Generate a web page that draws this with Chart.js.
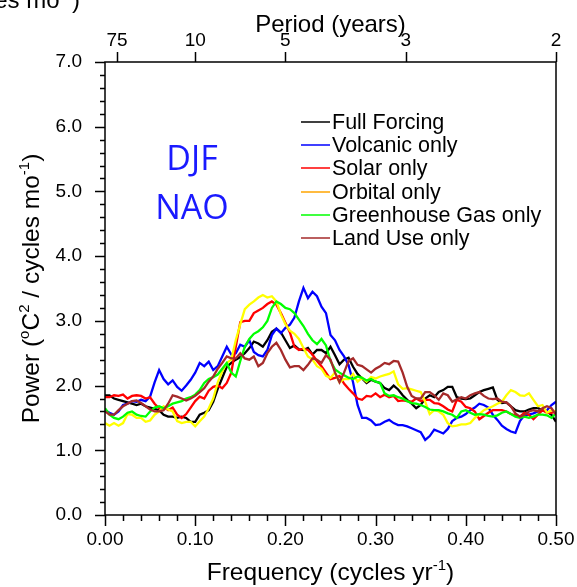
<!DOCTYPE html>
<html>
<head>
<meta charset="utf-8">
<title>DJF NAO power spectrum</title>
<script src="https://cdn.jsdelivr.net/npm/chart.js@4.4.1/dist/chart.umd.min.js"></script>
<style>
    html, body { margin: 0; padding: 0; background: #ffffff; }
    #wrap { width: 577px; height: 587px; }
</style>
</head>
<body>
<div id="wrap"><canvas id="spectrumChart" width="577" height="587"></canvas></div>
<script>
// Frequency grid (cycles / yr), one value every 0.005
const freqs = Array.from({ length: 101 }, (_, i) => +(i * 0.005).toFixed(3));

// Series values (power, 101 values each)
const fullForcing = [
    1.85, 1.85, 1.80, 1.78, 1.76, 1.74, 1.72, 1.70, 1.72, 1.68,
    1.66, 1.64, 1.62, 1.55, 1.52, 1.52, 1.50, 1.52, 1.50, 1.44,
    1.44, 1.55, 1.58, 1.62, 1.75, 1.95, 2.12, 2.29, 2.35, 2.40,
    2.44, 2.50, 2.58, 2.68, 2.65, 2.60, 2.70, 2.83, 2.88, 2.82,
    2.70, 2.58, 2.62, 2.56, 2.55, 2.58, 2.48, 2.55, 2.55, 2.50,
    2.60, 2.47, 2.33, 2.40, 2.43, 2.29, 2.18, 2.11, 2.04, 2.09,
    2.06, 2.04, 1.96, 1.93, 2.00, 1.94, 1.85, 1.78, 1.72, 1.65,
    1.70, 1.80, 1.85, 1.82, 1.90, 1.93, 1.98, 1.98, 1.82, 1.80,
    1.79, 1.80, 1.85, 1.90, 1.93, 1.95, 1.97, 1.78, 1.73, 1.74,
    1.68, 1.62, 1.60, 1.60, 1.63, 1.65, 1.65, 1.62, 1.60, 1.55,
    1.44
];
const volcanicOnly = [
    1.62, 1.58, 1.55, 1.60, 1.70, 1.72, 1.76, 1.75, 1.78, 1.76,
    1.83, 2.05, 2.24, 2.10, 2.02, 2.08, 1.98, 1.92, 2.00, 2.09,
    2.20, 2.35, 2.30, 2.37, 2.24, 2.30, 2.45, 2.60, 2.48, 2.50,
    2.63, 2.60, 2.70, 2.52, 2.47, 2.45, 2.55, 2.78, 2.88, 2.81,
    2.89, 2.94, 3.05, 3.30, 3.51, 3.35, 3.45, 3.38, 3.22, 3.12,
    2.78, 2.70, 2.55, 2.45, 2.32, 2.05, 1.70, 1.50, 1.50, 1.46,
    1.39, 1.40, 1.44, 1.47, 1.42, 1.39, 1.39, 1.37, 1.34, 1.31,
    1.28, 1.16, 1.22, 1.32, 1.29, 1.26, 1.33, 1.45, 1.50, 1.52,
    1.56, 1.62, 1.66, 1.72, 1.70, 1.66, 1.55, 1.47, 1.38, 1.33,
    1.29, 1.27, 1.45, 1.54, 1.55, 1.57, 1.60, 1.61, 1.62, 1.70,
    1.75
];
const solarOnly = [
    1.82, 1.82, 1.85, 1.84, 1.86, 1.80, 1.84, 1.85, 1.84, 1.80,
    1.82, 1.72, 1.65, 1.67, 1.62, 1.66, 1.55, 1.50, 1.56, 1.66,
    1.76, 1.83, 1.80, 1.92, 1.98, 2.00, 1.96, 2.04, 2.20, 2.60,
    2.98, 3.00, 3.00, 3.12, 3.16, 3.20, 3.26, 3.30, 3.25, 3.12,
    2.97, 2.82, 2.60, 2.55, 2.57, 2.55, 2.48, 2.38, 2.30, 2.20,
    2.10, 2.12, 2.15, 2.03, 1.95, 1.88, 1.80, 1.78, 1.84, 1.83,
    1.88, 1.82, 1.86, 1.82, 1.84, 1.76, 1.77, 1.76, 1.75, 1.80,
    1.76, 1.78, 1.78, 1.73, 1.72, 1.68, 1.63, 1.60, 1.78, 1.75,
    1.67, 1.65, 1.60, 1.48, 1.53, 1.58, 1.62, 1.62, 1.62, 1.60,
    1.56, 1.54, 1.52, 1.58, 1.55, 1.48, 1.55, 1.62, 1.58, 1.58,
    1.60
];
const orbitalOnly = [
    1.42, 1.38, 1.42, 1.38, 1.42, 1.56, 1.55, 1.50, 1.50, 1.44,
    1.46, 1.55, 1.60, 1.68, 1.63, 1.60, 1.45, 1.42, 1.44, 1.44,
    1.37, 1.45, 1.52, 1.65, 1.80, 2.05, 2.22, 2.35, 2.40, 2.70,
    2.95, 3.18, 3.25, 3.30, 3.36, 3.40, 3.36, 3.38, 3.30, 3.10,
    2.95, 2.85, 2.80, 2.72, 2.58, 2.45, 2.40, 2.30, 2.26, 2.15,
    2.12, 2.20, 2.05, 2.10, 2.10, 2.18, 2.06, 2.12, 2.06, 2.13,
    2.11, 2.14, 2.16, 2.18, 2.22, 2.02, 1.95, 1.96, 1.94, 1.92,
    1.90, 1.75, 1.56, 1.62, 1.60, 1.55, 1.42, 1.37, 1.38, 1.40,
    1.40, 1.42, 1.50, 1.56, 1.62, 1.65, 1.68, 1.72, 1.75, 1.85,
    1.93, 1.90, 1.85, 1.84, 1.88, 1.78, 1.68, 1.70, 1.58, 1.62,
    1.60
];
const greenhouseOnly = [
    1.65, 1.55, 1.50, 1.48, 1.52, 1.58, 1.60, 1.55, 1.53, 1.52,
    1.60, 1.66, 1.68, 1.65, 1.68, 1.72, 1.74, 1.76, 1.80, 1.82,
    1.86, 1.93, 2.04, 2.10, 2.13, 2.17, 2.26, 2.35, 2.20, 2.14,
    2.38, 2.60, 2.72, 2.80, 2.84, 2.90, 3.00, 3.20, 3.30, 3.26,
    3.20, 3.18, 3.12, 3.02, 2.92, 2.80, 2.70, 2.64, 2.72, 2.62,
    2.38, 2.25, 2.20, 2.16, 2.12, 2.10, 2.14, 2.12, 2.08, 2.10,
    2.06, 2.04, 1.88, 1.84, 1.85, 1.82, 1.80, 1.76, 1.73, 1.72,
    1.70, 1.67, 1.63, 1.62, 1.62, 1.60, 1.57, 1.55, 1.50, 1.60,
    1.62, 1.58, 1.55, 1.56, 1.55, 1.53, 1.52, 1.54, 1.58, 1.60,
    1.56, 1.52, 1.50, 1.52, 1.50, 1.52, 1.55, 1.55, 1.54, 1.50,
    1.57
];
const landUseOnly = [
    1.60, 1.55, 1.55, 1.62, 1.68, 1.72, 1.76, 1.77, 1.73, 1.68,
    1.63, 1.60, 1.60, 1.62, 1.72, 1.85, 1.83, 1.80, 1.77, 1.80,
    1.84, 1.90, 1.96, 2.06, 2.14, 2.26, 2.35, 2.45, 2.42, 2.42,
    2.50, 2.42, 2.40, 2.45, 2.30, 2.35, 2.50, 2.60, 2.66, 2.55,
    2.40, 2.28, 2.30, 2.30, 2.24, 2.32, 2.42, 2.40, 2.35, 2.47,
    2.40, 2.20, 2.05, 2.20, 2.38, 2.42, 2.32, 2.30, 2.25, 2.20,
    2.26, 2.30, 2.35, 2.33, 2.38, 2.37, 2.20, 1.98, 1.84, 1.80,
    1.80, 1.90, 1.90, 1.85, 1.78, 1.88, 1.85, 1.75, 1.79, 1.82,
    1.80, 1.85, 1.88, 1.90, 1.84, 1.80, 1.79, 1.80, 1.75, 1.74,
    1.68, 1.57, 1.52, 1.55, 1.60, 1.62, 1.60, 1.65, 1.68, 1.65,
    1.55
];

const seriesNames = ['Full Forcing', 'Volcanic only', 'Solar only', 'Orbital only', 'Greenhouse Gas only', 'Land Use only'];
const seriesValues = [fullForcing, volcanicOnly, solarOnly, orbitalOnly, greenhouseOnly, landUseOnly];
const lineColors = ['#000000', '#0000ff', '#ff0000', '#ffff00', '#00ff00', '#a52a2a'];
// the legend shows orbital in orange even though the curve is yellow
const legendColors = ['#000000', '#0000ff', '#ff0000', '#ffa500', '#00ff00', '#a52a2a'];

// Top axis: period in years
const periodYears = [75, 10, 5, 3, 2];
const periodLabels = ['75', '10', '5', '3', '2'];

const FONT = "'Liberation Sans', Arial, Helvetica, sans-serif";

// draw text with superscript pieces, parts = [[text, isSup], ...]
function richWidth(ctx, parts, size) {
    let w = 0;
    parts.forEach(([t, sup]) => {
        ctx.font = (sup ? Math.round(size * 0.6) : size) + 'px ' + FONT;
        w += ctx.measureText(t).width;
    });
    return w;
}

function drawRich(ctx, parts, x, y, size) {
    // x is the left edge, y the baseline
    parts.forEach(([t, sup]) => {
        ctx.font = (sup ? Math.round(size * 0.6) : size) + 'px ' + FONT;
        ctx.fillText(t, x, sup ? y - size * 0.42 : y);
        x += ctx.measureText(t).width;
    });
}

const decorPlugin = {
    id: 'decor',
    afterDatasetsDraw(chart) {
        const ctx = chart.ctx;
        const area = chart.chartArea;
        const xs = chart.scales.x;
        const ys = chart.scales.y;
        const xt = chart.scales.xTop;

        ctx.save();
        ctx.strokeStyle = '#000000';
        ctx.fillStyle = '#000000';
        ctx.lineWidth = 1.5;

        // frame
        ctx.strokeRect(area.left, area.top, area.right - area.left, area.bottom - area.top);

        // bottom ticks: major every 0.1, minor every 0.02
        ctx.beginPath();
        for (let i = 0; i <= 25; i++) {
            const px = Math.round(xs.getPixelForValue(i * 0.02)) + 0.5;
            const len = (i % 5 === 0) ? 11 : 6;
            ctx.moveTo(px, area.bottom);
            ctx.lineTo(px, area.bottom + len);
        }
        // left ticks: major every 1.0, minor every 0.2
        for (let i = 0; i <= 35; i++) {
            const py = Math.round(ys.getPixelForValue(i * 0.2)) + 0.5;
            const len = (i % 5 === 0) ? 10 : 5;
            ctx.moveTo(area.left, py);
            ctx.lineTo(area.left - len, py);
        }
        // top ticks at the period positions
        periodYears.forEach(p => {
            const px = Math.round(xt.getPixelForValue(1 / p)) + 0.5;
            ctx.moveTo(px, area.top);
            ctx.lineTo(px, area.top - 10);
        });
        ctx.stroke();

        // axis titles
        ctx.textBaseline = 'alphabetic';
        const cx = (area.left + area.right) / 2;
        const xTitle = [['Frequency (cycles yr', false], ['-1', true], [')', false]];
        drawRich(ctx, xTitle, cx - richWidth(ctx, xTitle, 24.5) / 2, 580, 24.5);

        const topTitle = [['Period (years)', false]];
        drawRich(ctx, topTitle, cx - richWidth(ctx, topTitle, 24) / 2, 32, 24);

        const yTitle = [['Power (', false], ['o', true], ['C', false], ['2', true],
                        [' / cycles mo', false], ['-1', true], [')', false]];
        ctx.save();
        ctx.translate(39, (area.top + area.bottom) / 2);
        ctx.rotate(-Math.PI / 2);
        drawRich(ctx, yTitle, -richWidth(ctx, yTitle, 24.5) / 2, 0, 24.5);
        ctx.restore();

        // title of the panel above, cut off at the top edge
        const cutTitle = [['cycles mo', false], ['-1', true], [')', false]];
        drawRich(ctx, cutTitle, 80 - richWidth(ctx, cutTitle, 24), 8, 24);

        // legend
        const rowY = [122, 145, 168, 192, 215, 238];
        ctx.lineWidth = 1.5;
        ctx.textBaseline = 'middle';
        seriesNames.forEach((name, i) => {
            ctx.strokeStyle = legendColors[i];
            ctx.beginPath();
            ctx.moveTo(301, rowY[i]);
            ctx.lineTo(330, rowY[i]);
            ctx.stroke();
            ctx.fillStyle = '#000000';
            ctx.font = '21.5px ' + FONT;
            ctx.fillText(name, 332, rowY[i] + 1);
        });

        // season / index label
        ctx.fillStyle = '#1a1aff';
        ctx.textAlign = 'center';
        ctx.font = "34px 'Open Sans', 'Noto Sans', sans-serif";
        ctx.fillText('DJF', 192, 160);
        ctx.fillText('NAO', 192, 209);

        ctx.restore();
    }
};

// keep the plot box at fixed pixels: no extra room for edge labels
function noEdgePadding(s) {
    s.paddingLeft = 0;
    s.paddingRight = 0;
}

function createSpectrumChart() {
    const el = document.getElementById('spectrumChart');
    if (!el) return;

    const datasets = seriesNames.map((name, i) => ({
        label: name,
        data: freqs.map((f, j) => ({ x: f, y: seriesValues[i][j] })),
        borderColor: lineColors[i],
        backgroundColor: lineColors[i],
        borderWidth: 2.3,
        pointRadius: 0,
        tension: 0,
        fill: false,
        order: seriesNames.length - i // later series drawn on top
    }));

    const tickFont = { family: FONT, size: 19 };

    new Chart(el.getContext('2d'), {
        type: 'line',
        data: { datasets: datasets },
        options: {
            responsive: false,
            animation: false,
            layout: { padding: { left: 0, right: 21, top: 0, bottom: 0 } },
            plugins: { legend: { display: false }, tooltip: { enabled: false } },
            scales: {
                x: {
                    type: 'linear', position: 'bottom', min: 0, max: 0.5,
                    ticks: { stepSize: 0.1, callback: v => v.toFixed(2), font: tickFont, color: '#000', padding: 13, maxRotation: 0 },
                    grid: { display: false, drawTicks: false },
                    border: { display: false },
                    afterFit: s => { s.height = 72; noEdgePadding(s); }
                },
                xTop: {
                    type: 'linear', position: 'top', min: 0, max: 0.5,
                    afterBuildTicks: s => { s.ticks = periodYears.map(p => ({ value: 1 / p })); },
                    ticks: { autoSkip: false, callback: (v, i) => periodLabels[i], font: tickFont, color: '#000', padding: 10, maxRotation: 0 },
                    grid: { display: false, drawTicks: false },
                    border: { display: false },
                    afterFit: s => { s.height = 62; noEdgePadding(s); }
                },
                y: {
                    min: 0, max: 7,
                    ticks: { stepSize: 1, callback: v => v.toFixed(1), font: tickFont, color: '#000', padding: 23 },
                    grid: { display: false, drawTicks: false },
                    border: { display: false },
                    afterFit: s => { s.width = 105; s.paddingTop = 0; s.paddingBottom = 0; }
                }
            }
        },
        plugins: [decorPlugin]
    });
}

document.addEventListener('DOMContentLoaded', function () {
    try {
        createSpectrumChart();
    } catch (error) {
        console.error('Error creating spectrum chart:', error);
    }
});
</script>
</body>
</html>
